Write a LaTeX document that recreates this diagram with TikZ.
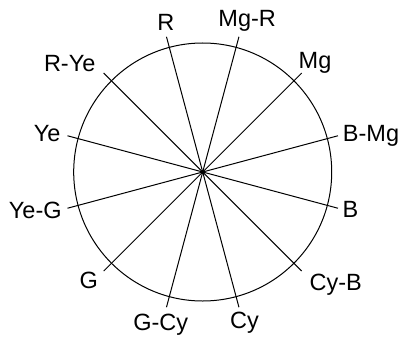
\documentclass[tikz,border=0pt]{standalone}
\usepackage{fontspec}
\setmainfont{Liberation Sans}
\usepackage{tikz}
\usetikzlibrary{calc}

\begin{document}
\begin{tikzpicture}[x=1pt,y=1pt,
  hue/.style={font=\fontsize{23.5}{28}\selectfont,inner sep=0pt,anchor=base},
  spoke/.style={line width=1pt,black},
  rim/.style={line width=1pt,black}]
\useasboundingbox (0,0) rectangle (403,338);
\coordinate (c) at (202.7,166);
\draw[rim] (c) circle (129);
% spokes, every 30 degrees
\foreach \a/\n in {105/r,75/mgr,45/mg,15/bmg,-15/b,-45/cyb,-75/cy,-105/gcy,-135/g,-165/yeg,165/ye,135/rye}
  \draw[spoke] (c) -- ($(c)+(\a:140)$) coordinate (e-\n);
\fill (c) circle (2);
% hue names
\node[hue] (r)   at (165.8,307)   {R};
\node[hue] (mgr) at (247.2,311.3) {Mg-R};
\node[hue] (mg)  at (315,269.7)   {Mg};
\node[hue] (bmg) at (371,197)     {B-Mg};
\node[hue] (b)   at (350.5,120.7) {B};
\node[hue] (cyb) at (335.8,48)    {Cy-B};
\node[hue] (cy)  at (244.5,9.7)   {Cy};
\node[hue] (gcy) at (160.8,8)     {G-Cy};
\node[hue] (g)   at (88.7,49.7)   {G};
\node[hue] (yeg) at (35.3,119.7)  {Ye-G};
\node[hue] (ye)  at (47.2,196.3)  {Ye};
\node[hue] (rye) at (69.7,266.3)  {R-Ye};
\end{tikzpicture}
\end{document}
